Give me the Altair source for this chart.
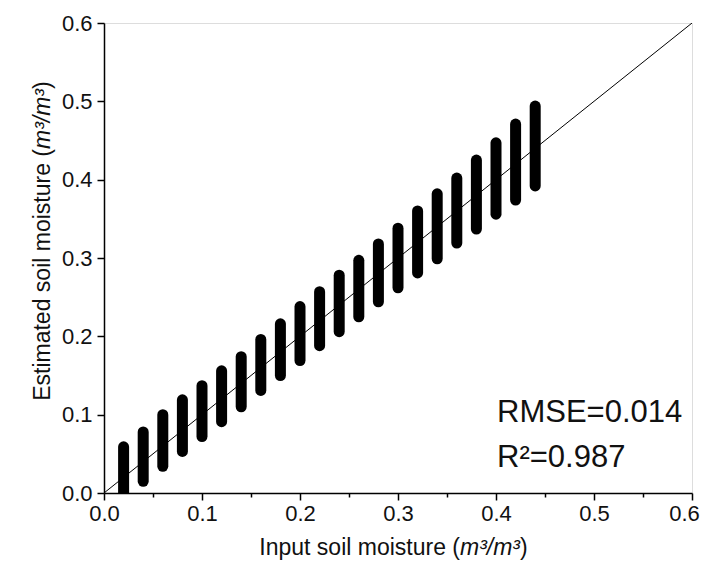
import altair as alt
import pandas as pd

# Input soil moisture levels (x) and spread of estimated values (y low/high)
input_sm = [0.02, 0.04, 0.06, 0.08, 0.10, 0.12, 0.14, 0.16, 0.18, 0.20, 0.22,
            0.24, 0.26, 0.28, 0.30, 0.32, 0.34, 0.36, 0.38, 0.40, 0.42, 0.44]
est_low = [-0.01, 0.015, 0.034, 0.053, 0.072, 0.091, 0.110, 0.131, 0.150, 0.169, 0.188,
           0.206, 0.225, 0.244, 0.262, 0.281, 0.299, 0.319, 0.337, 0.356, 0.374, 0.392]
est_high = [0.059, 0.078, 0.100, 0.119, 0.137, 0.156, 0.174, 0.196, 0.216, 0.238, 0.257,
            0.278, 0.297, 0.318, 0.338, 0.360, 0.382, 0.402, 0.425, 0.447, 0.471, 0.494]
line_x = [0.0, 0.6]
line_y = [0.0, 0.6]
axis_ticks = [0.0, 0.05, 0.1, 0.15, 0.2, 0.25, 0.3, 0.35, 0.4, 0.45, 0.5, 0.55, 0.6]
stats_text = ["RMSE=0.014", "R\u00b2=0.987"]

bars = pd.DataFrame({"x": input_sm, "lo": est_low, "hi": est_high})
diag = pd.DataFrame({"x": line_x, "y": line_y})

W, H = 588, 470
FONT = "Liberation Sans"
TITLE_FS = 23
LABEL_FS = 22

major = "round(datum.value*100) % 10 == 0"
xscale = alt.Scale(domain=[0, 0.6], nice=False)
yscale = alt.Scale(domain=[0, 0.6], nice=False)

def make_axis(pad, last_shift=0):
    kw = {}
    if last_shift:
        kw["labelOffset"] = {"condition": {"test": "datum.value >= 0.59", "value": last_shift}, "value": 0}
    return alt.Axis(values=axis_ticks, title=None, grid=False,
                    labelExpr=f"{major} ? format(datum.value, '.1f') : ''",
                    tickSize={"condition": {"test": major, "value": 7}, "value": 4},
                    labelFont=FONT, labelFontSize=LABEL_FS, labelColor="#111",
                    labelPadding=pad, labelFlush=False, labelOverlap=False,
                    domainColor="black", domainWidth=1.5, tickColor="black", tickWidth=1.5,
                    **kw)

diag_line = alt.Chart(diag).mark_line(color="black", strokeWidth=1, clip=True).encode(
    x=alt.X("x:Q", scale=xscale, axis=make_axis(3, last_shift=-8)),
    y=alt.Y("y:Q", scale=yscale, axis=make_axis(5)),
)

bar_layer = alt.Chart(bars).mark_rule(color="black", strokeWidth=11, strokeCap="round", clip=True).encode(
    x=alt.X("x:Q", scale=xscale),
    y=alt.Y("lo:Q", scale=yscale),
    y2="hi:Q",
)

stats = pd.DataFrame({"t": stats_text, "row": [0, 1]})

def stat(row, ypix):
    return alt.Chart(stats).mark_text(
        font=FONT, fontSize=31, align="left", baseline="alphabetic", color="#111"
    ).encode(text="t:N", x=alt.value(393), y=alt.value(ypix)).transform_filter(f"datum.row == {row}")

# Axis titles composed of normal + italic pieces
ITW = 2.610 * TITLE_FS  # width of italic "m³/m³"
one = pd.DataFrame({"a": [0]})

def txt(text, x, y, align, italic=False, angle=0):
    return alt.Chart(one).mark_text(
        text=text, font=FONT, fontSize=TITLE_FS, align=align, baseline="alphabetic",
        fontStyle="italic" if italic else "normal", angle=angle, color="#111"
    ).encode(x=alt.value(x), y=alt.value(y))

xt_anchor = 356
xt_y = 532
xtitle = (txt("Input soil moisture (", xt_anchor, xt_y, "right")
          + txt("m\u00b3/m\u00b3", xt_anchor, xt_y, "left", italic=True)
          + txt(")", xt_anchor + ITW, xt_y, "left"))

yt_x = -54
yt_anchor = 126
ytitle = (txt("Estimated soil moisture (", yt_x, yt_anchor, "right", angle=270)
          + txt("m\u00b3/m\u00b3", yt_x, yt_anchor, "left", italic=True, angle=270)
          + txt(")", yt_x, yt_anchor - ITW, "left", angle=270))

chart = alt.layer(diag_line, bar_layer, stat(0, 399), stat(1, 444), xtitle, ytitle).properties(
    width=W, height=H,
    autosize=alt.AutoSizeParams(type="none"),
    padding={"left": 96, "top": 15, "right": 8, "bottom": 67},
).configure_view(stroke="black", strokeWidth=1.5).configure(background="white")

chart.save("out.html", embed_options={"renderer": "svg", "actions": False})
